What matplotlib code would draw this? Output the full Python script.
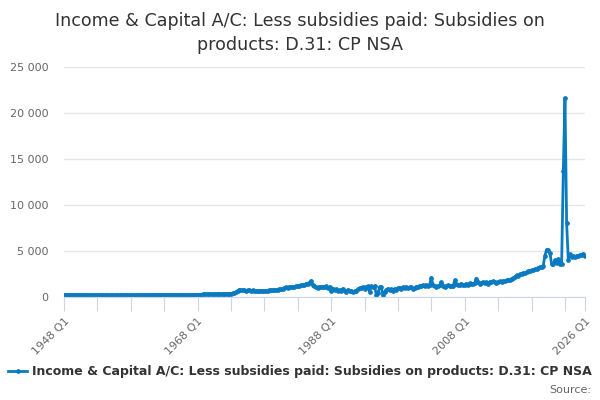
import numpy as np
import matplotlib
matplotlib.use("Agg")
import matplotlib.pyplot as plt
from matplotlib.lines import Line2D
from matplotlib.ticker import FuncFormatter

# quarterly values, £m, 1948 Q1 .. 2026 Q1
vals_1948_1957 = [260, 250, 255, 250, 255, 245, 250, 240, 240, 235,
                  240, 230, 235, 230, 225, 230, 220, 215, 220, 210,
                  215, 210, 205, 210, 200, 205, 200, 195, 200, 195,
                  190, 200, 195, 190, 200, 195, 200, 195, 205, 200]
vals_1958_1967 = [205, 210, 200, 210, 215, 210, 220, 215, 225, 230,
                  220, 235, 240, 250, 255, 260, 265, 270, 260, 255,
                  250, 245, 255, 250, 245, 240, 250, 245, 240, 235,
                  245, 240, 235, 230, 225, 230, 240, 250, 245, 255]
vals_1968_1977 = [260, 270, 265, 275, 280, 275, 285, 290, 285, 295,
                  300, 310, 305, 320, 315, 330, 340, 335, 350, 360,
                  380, 400, 450, 520, 690, 800, 760, 730, 720, 700,
                  740, 710, 690, 710, 680, 700, 660, 640, 680, 650]
vals_1978_1987 = [670, 640, 690, 720, 750, 730, 780, 760, 800, 850,
                  830, 900, 980, 1050, 1020, 1100, 1080, 1120, 1090, 1150,
                  1200, 1180, 1270, 1300, 1350, 1450, 1400, 1500, 1780, 1300,
                  1150, 1080, 1000, 1100, 1050, 1120, 1080, 1150, 1000, 1100]
vals_1988_1997 = [630, 900, 750, 850, 600, 800, 700, 900, 650, 550,
                  800, 600, 700, 550, 650, 600, 850, 950, 1000, 1100,
                  900, 1050, 1150, 540, 1150, 1100, 1200, 250, 400, 1100,
                  1050, 200, 550, 800, 900, 750, 850, 700, 900, 800]
vals_1998_2007 = [950, 1000, 900, 1050, 1000, 1100, 950, 1050, 1050, 900,
                  1000, 1100, 1100, 1250, 1150, 1270, 1200, 1300, 1250, 1350,
                  2100, 1270, 1150, 1100, 1200, 1300, 1630, 1250, 1100, 1200,
                  1270, 1150, 1250, 1200, 1810, 1400, 1300, 1350, 1450, 1270]
vals_2008_2017 = [1350, 1450, 1300, 1500, 1400, 1450, 1550, 2000, 1600, 1450,
                  1550, 1630, 1500, 1600, 1450, 1650, 1600, 1700, 1630, 1550,
                  1650, 1700, 1600, 1750, 1700, 1800, 1900, 1850, 2000, 2050,
                  2200, 2350, 2300, 2450, 2550, 2600, 2650, 2700, 2800, 2850]
vals_2018_2026 = [2900, 2950, 3000, 3050, 3200, 3250, 3300, 3400, 4500, 5150,
                  5100, 4800, 3600, 3550, 4000, 3700, 4100, 3600, 3550, 13660,
                  21630, 8040, 4060, 4650, 4300, 4450, 4350, 4500, 4450, 4600,
                  4550, 4700, 4500]

values = (vals_1948_1957 + vals_1958_1967 + vals_1968_1977 + vals_1978_1987
          + vals_1988_1997 + vals_1998_2007 + vals_2008_2017 + vals_2018_2026)
quarters = [f"{y} Q{q}" for y in range(1948, 2027) for q in range(1, 5)][:len(values)]

title = "Income & Capital A/C: Less subsidies paid: Subsidies on\nproducts: D.31: CP NSA"
series_name = "Income & Capital A/C: Less subsidies paid: Subsidies on products: D.31: CP NSA"

blue = "#0b7bc1"
grey = "#666666"

fig = plt.figure(figsize=(6, 4), dpi=100)
ax = fig.add_axes([64 / 600, 103 / 400, 521 / 600, 230 / 400])

x = np.arange(len(values))
ax.plot(x, values, color=blue, lw=2, marker='o', markersize=2.4)

ax.set_xlim(0, len(values) - 1)
ax.set_ylim(0, 25000)
ax.set_yticks(range(0, 25001, 5000))
ax.yaxis.set_major_formatter(FuncFormatter(lambda v, p: f"{int(v):,}".replace(",", " ")))
ax.grid(axis='y', color='#e6e6e6', lw=1)
ax.set_axisbelow(True)

ticks = list(range(0, len(values), 20)) + [len(values) - 1]
ax.set_xticks(ticks)
ax.set_xticklabels([quarters[t] if (t % 80 == 0 or t == len(values) - 1) else "" for t in ticks],
                   rotation=45, ha='right', rotation_mode='anchor')

for s in ['top', 'right', 'left']:
    ax.spines[s].set_visible(False)
ax.spines['bottom'].set_color('#ccd6eb')
ax.tick_params(axis='x', colors='#ccd6eb', length=10, labelcolor=grey, labelsize=8)
ax.tick_params(axis='y', length=0, labelcolor=grey, labelsize=8, pad=11)

fig.text(0.5, 1 - 33 / 400, title, ha='center', va='center', fontsize=12.6,
         color='#333333', linespacing=1.45)

handle = Line2D([], [], color=blue, lw=2, marker='o', markersize=2.4)
fig.legend([handle], [series_name], loc='center', bbox_to_anchor=(0.5, 1 - 372 / 400),
           frameon=False, handlelength=1.5, handletextpad=0.4,
           prop={'weight': 'bold', 'size': 9}, labelcolor='#333333')
fig.text(0.985, 1 - 390 / 400, "Source:", ha='right', va='center', fontsize=8, color=grey)

fig.savefig("out.png", dpi=100)
